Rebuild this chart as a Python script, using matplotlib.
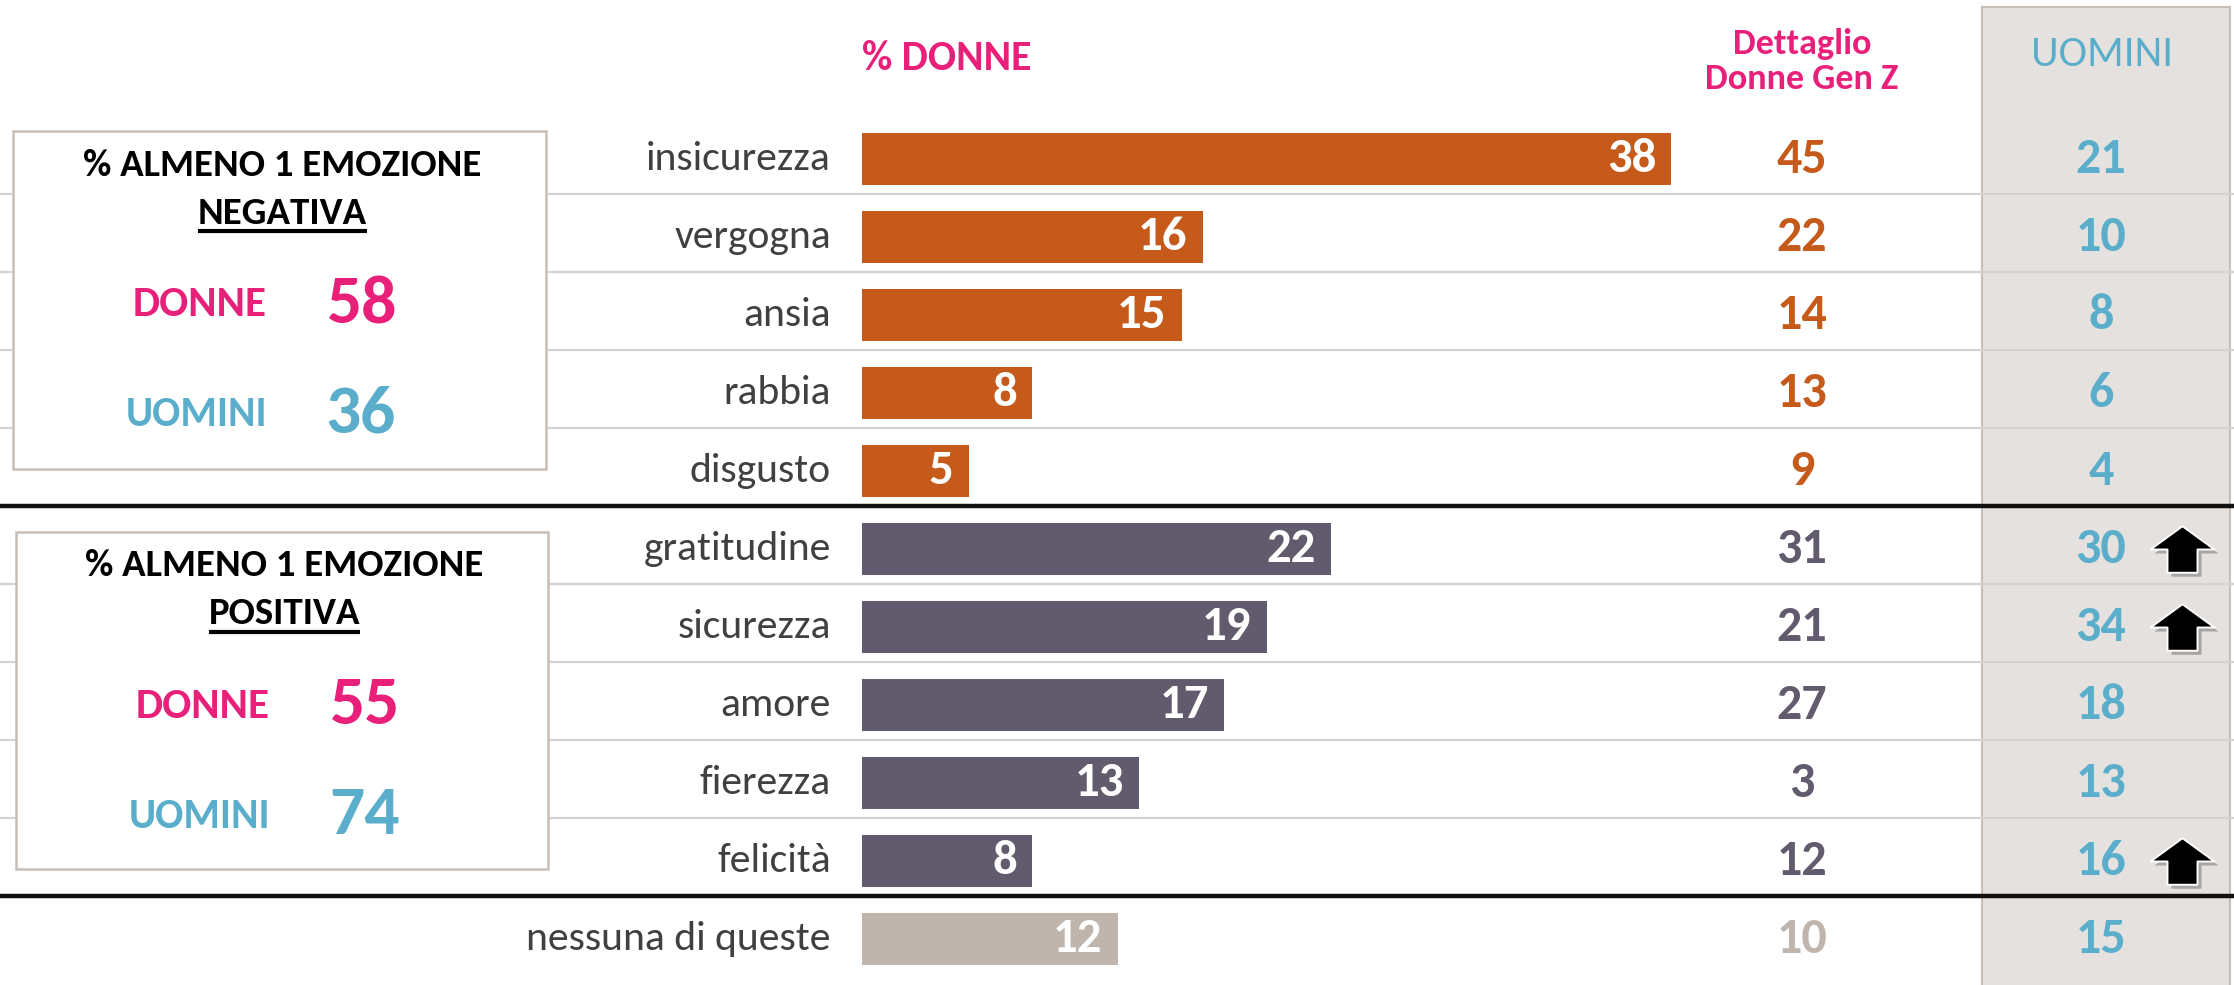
import matplotlib
matplotlib.use('Agg')
import matplotlib.pyplot as plt
from matplotlib.patches import Rectangle
from matplotlib.path import Path
import matplotlib.transforms as mtransforms
from matplotlib import font_manager as fm

# ---------------- data ----------------
categories = ['insicurezza', 'vergogna', 'ansia', 'rabbia', 'disgusto',
              'gratitudine', 'sicurezza', 'amore', 'fierezza', 'felicità',
              'nessuna di queste']
groups = ['neg', 'neg', 'neg', 'neg', 'neg',
          'pos', 'pos', 'pos', 'pos', 'pos', 'none']
donne = [38, 16, 15, 8, 5, 22, 19, 17, 13, 8, 12]
donne_genz = [45, 22, 14, 13, 9, 31, 21, 27, 3, 12, 10]
uomini = [21, 10, 8, 6, 4, 30, 34, 18, 13, 16, 15]
uomini_up = [False, False, False, False, False, True, True, False, False, True, False]

summary_kind = ['NEGATIVA', 'POSITIVA']
summary_donne = [58, 55]
summary_uomini = [36, 74]

# ---------------- style ----------------
names = {f.name for f in fm.fontManager.ttflist}
FONT = 'DejaVu Sans'
for cand in ['Carlito', 'Lato', 'Liberation Sans Narrow']:
    if cand in names:
        FONT = cand
        break
plt.rcParams['font.family'] = [FONT, 'DejaVu Sans']

group_color = {'neg': '#C55A1A', 'pos': '#625A6D', 'none': '#C0B5AC'}
PINK = '#E8207A'
BLUE = '#5AAECB'
LABEL = '#404040'
BOXEDGE = '#C9BFB7'

W, H = 2234, 985
ROW0, STEP = 159, 78

fig = plt.figure(figsize=(W / 100, H / 100), dpi=100)
lay = fig.add_axes([0, 0, 1, 1])
lay.set_xlim(0, W)
lay.set_ylim(H, 0)
lay.axis('off')

bx = fig.add_axes([862 / W, 0, 852 / W, 1])
bx.set_xlim(0, 40)
bx.set_ylim((H - ROW0) / STEP, -ROW0 / STEP)
bx.axis('off')
bx.patch.set_alpha(0)

tr = mtransforms.blended_transform_factory(lay.transData, bx.transData)
rows = list(range(len(categories)))

# men column background
lay.add_patch(Rectangle((1982, 7), 248, H, facecolor='#E5E1DE',
                        edgecolor=BOXEDGE, lw=1.5, zorder=1))

# separators
for i in rows[:-1]:
    thick = groups[i] != groups[i + 1]
    lay.plot([0, W], [i + 0.45, i + 0.45], transform=tr,
             color='#111111' if thick else '#D3D3D3',
             lw=3.2 if thick else 1.6, zorder=3 if thick else 2,
             solid_capstyle='butt')

# bars
bx.barh(rows, donne, height=0.667, color=[group_color[g] for g in groups], zorder=2)
for i, v in zip(rows, donne):
    bx.annotate(str(v), xy=(v, i), xytext=(-11, 0), textcoords='offset points',
                ha='right', va='center', color='white', fontsize=35,
                fontweight='bold', zorder=3)

# row labels & columns
for i, (c, g, z, u) in enumerate(zip(categories, groups, donne_genz, uomini)):
    lay.text(831, i, c, transform=tr, ha='right', va='center',
             fontsize=30, color=LABEL, zorder=5)
    lay.text(1802, i, str(z), transform=tr, ha='center', va='center',
             fontsize=36, fontweight='bold', color=group_color[g], zorder=5)
    lay.text(2101, i, str(u), transform=tr, ha='center', va='center',
             fontsize=36, fontweight='bold', color=BLUE, zorder=5)

# arrows
arrow_path = Path([(-0.235, -0.364), (0.235, -0.364), (0.235, 0.0), (0.5, 0.0),
                   (0.0, 0.364), (-0.5, 0.0), (-0.235, 0.0), (-0.235, -0.364)],
                  [Path.MOVETO] + [Path.LINETO] * 6 + [Path.CLOSEPOLY])
ys = [i for i, f in zip(rows, uomini_up) if f]
xs = [2182] * len(ys)
shadow_tr = mtransforms.offset_copy(tr, fig=fig, x=4, y=-4, units='dots')
lay.plot(xs, ys, transform=shadow_tr, ls='none', marker=arrow_path, ms=46,
         color='#00000045', mec='none', zorder=6)
lay.plot(xs, ys, transform=tr, ls='none', marker=arrow_path, ms=46,
         color='black', mec='white', mew=1.4, zorder=7)

# headers
lay.text(862, 58, '% DONNE', ha='left', va='center', fontsize=30,
         fontweight='bold', color=PINK)
lay.text(1802, 44, 'Dettaglio', ha='center', va='center', fontsize=26,
         fontweight='bold', color=PINK)
lay.text(1802, 79, 'Donne Gen Z', ha='center', va='center', fontsize=26,
         fontweight='bold', color=PINK)
lay.text(2102, 55, 'UOMINI', ha='center', va='center', fontsize=31, color=BLUE,
         zorder=5)

# summary boxes
boxes = [(13, 131, 533, 338), (16, 532, 532, 337)]
under = []
for (x0, y0, bw, bh), kind, d, u in zip(boxes, summary_kind, summary_donne, summary_uomini):
    lay.add_patch(Rectangle((x0, y0), bw, bh, facecolor='white',
                            edgecolor=BOXEDGE, lw=1.8, zorder=4))
    cx = x0 + bw * 0.505
    lay.text(cx, y0 + 34, '% ALMENO 1 EMOZIONE', ha='center', va='center',
             fontsize=28, fontweight='bold', color='black', zorder=5)
    t = lay.text(cx, y0 + 82, kind, ha='center', va='center',
                 fontsize=28, fontweight='bold', color='black', zorder=5)
    under.append((t, y0 + 100))
    lay.text(x0 + 254, y0 + 174, 'DONNE', ha='right', va='center', fontsize=31,
             fontweight='bold', color=PINK, zorder=5)
    lay.text(x0 + 348, y0 + 174, str(d), ha='center', va='center', fontsize=50,
             fontweight='bold', color=PINK, zorder=5)
    lay.text(x0 + 254, y0 + 284, 'UOMINI', ha='right', va='center', fontsize=30,
             fontweight='bold', color=BLUE, zorder=5)
    lay.text(x0 + 348, y0 + 283, str(u), ha='center', va='center', fontsize=50,
             fontweight='bold', color=BLUE, zorder=5)

fig.canvas.draw()
renderer = fig.canvas.get_renderer()
inv = lay.transData.inverted()
for t, yu in under:
    bb = t.get_window_extent(renderer)
    (ux0, _), (ux1, _) = inv.transform([[bb.x0, bb.y0], [bb.x1, bb.y1]])
    lay.plot([ux0, ux1], [yu, yu], color='black', lw=3, zorder=5,
             solid_capstyle='butt')

fig.savefig('out.png', dpi=100)
